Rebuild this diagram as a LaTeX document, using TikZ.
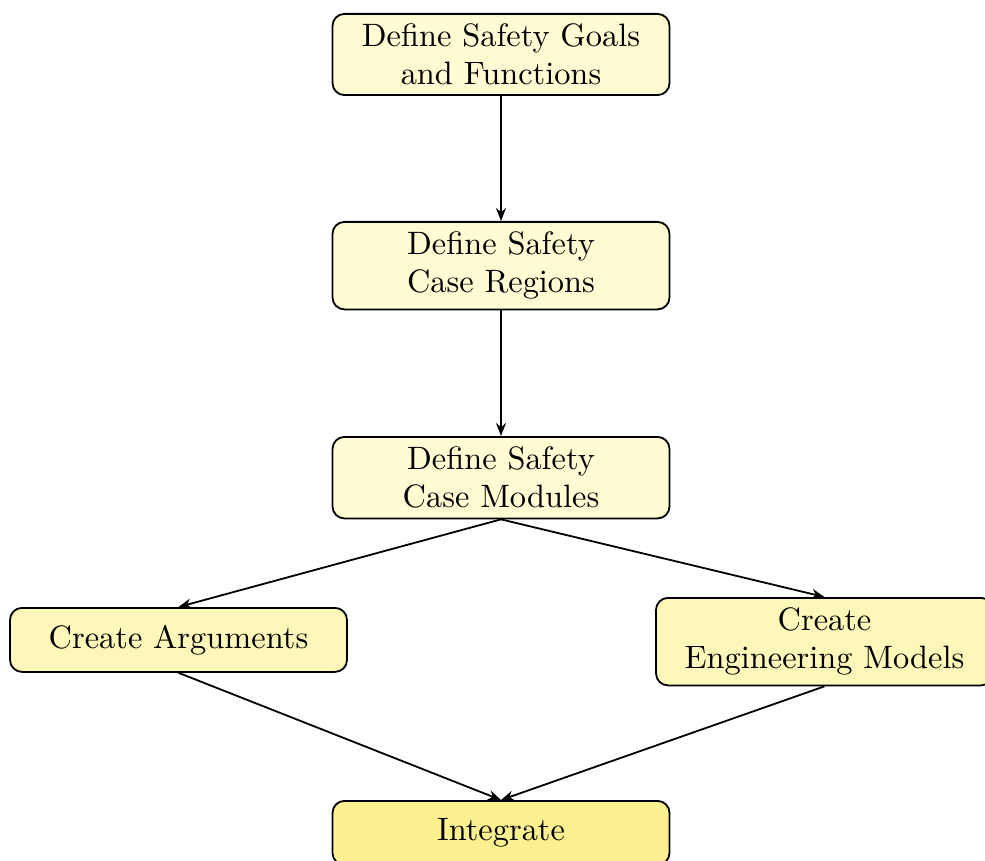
\documentclass[tikz,border=0pt]{standalone}
\usepackage{fontspec}
\setmainfont{lmroman10-regular}[Extension=.otf]
\usetikzlibrary{arrows.meta}
\definecolor{paleyellow}{RGB}{255,252,212}
\definecolor{midyellow}{RGB}{253,247,185}
\definecolor{deepyellow}{RGB}{252,240,145}
\tikzset{
  stepbox/.style={draw, line width=0.9pt, rounded corners=6pt, align=center,
    text width=158.5pt, inner sep=5pt, minimum height=32pt, anchor=north,
    font=\fontsize{16.2}{19}\selectfont},
  flow/.style={line width=0.9pt, -{Stealth[length=6.5pt,width=5pt]}}
}
\begin{document}
\begin{tikzpicture}[x=0.5pt,y=-0.5pt]
\useasboundingbox (0,0) rectangle (985,861);
\node[stepbox, fill=paleyellow] (goals) at (501,13) {Define Safety Goals\\and Functions};
\node[stepbox, fill=paleyellow] (regions) at (501,221) {Define Safety\\Case Regions};
\node[stepbox, fill=paleyellow] (modules) at (501,436) {Define Safety\\Case Modules};
\node[stepbox, fill=midyellow] (args) at (178.5,607) {Create Arguments};
\node[stepbox, fill=midyellow] (models) at (824.5,597) {Create\\Engineering Models};
\node[stepbox, fill=deepyellow] (integ) at (501,800) {Integrate};
\draw[flow] (goals.south) -- (regions.north);
\draw[flow] (regions.south) -- (modules.north);
\draw[flow] (modules.south) -- (args.north);
\draw[flow] (modules.south) -- (models.north);
\draw[flow] (args.south) -- (integ.north);
\draw[flow] (models.south) -- (integ.north);
\end{tikzpicture}
\end{document}
